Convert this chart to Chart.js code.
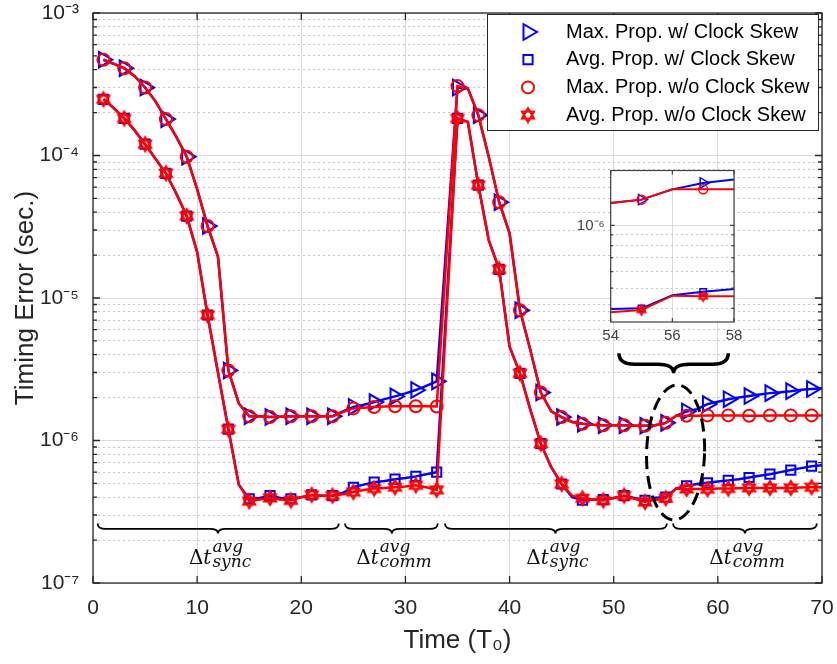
<!DOCTYPE html>
<html lang="en">
<head>
<meta charset="UTF-8">
<meta name="viewport" content="width=device-width, initial-scale=1.0">
<title>Timing Error over Time</title>
<style>
  body { margin: 0; background: #fff; }
  .stage { position: relative; width: 837px; height: 664px; }
  .stage > div { position: absolute; }
  #mainPane { left: 0; top: 0; width: 837px; height: 664px; }
  #zoomPane { left: 570px; top: 163px; width: 174px; height: 190px; }
</style>
</head>
<body>

<div class="stage">
  <div id="mainPane"><canvas id="errChart"></canvas></div>
  <div id="zoomPane"><canvas id="zoomChart"></canvas></div>
</div>

<!-- Chart.js -->
<script src="https://cdn.jsdelivr.net/npm/chart.js"></script>
<script>
    // Sample instants, in units of T0
    var time = [1, 2, 3, 4, 5, 6, 7, 8, 9, 10,
                11, 12, 13, 14, 15, 16, 17, 18, 19, 20,
                21, 22, 23, 24, 25, 26, 27, 28, 29, 30,
                31, 32, 33, 34, 35, 36, 37, 38, 39, 40,
                41, 42, 43, 44, 45, 46, 47, 48, 49, 50,
                51, 52, 53, 54, 55, 56, 57, 58, 59, 60,
                61, 62, 63, 64, 65, 66, 67, 68, 69, 70];

    // Propagated timing error (sec.)
    var maxSkew = [4.7e-4, 4.4e-4, 4.1e-4, 3.6e-4, 3.0e-4, 2.4e-4, 1.8e-4, 1.35e-4, 9.8e-5, 5.8e-5,
                   3.2e-5, 1.95e-5, 3.1e-6, 1.82e-6, 1.48e-6, 1.48e-6, 1.46e-6, 1.47e-6, 1.48e-6, 1.48e-6,
                   1.48e-6, 1.48e-6, 1.48e-6, 1.6e-6, 1.72e-6, 1.78e-6, 1.86e-6, 1.95e-6, 2.04e-6, 2.14e-6,
                   2.26e-6, 2.42e-6, 2.6e-6, 2.8e-5, 3.0e-4, 2.95e-4, 1.92e-4, 9.8e-5, 4.7e-5, 2.84e-5,
                   8.2e-6, 4.3e-6, 2.17e-6, 1.6e-6, 1.46e-6, 1.35e-6, 1.31e-6, 1.29e-6, 1.28e-6, 1.28e-6,
                   1.28e-6, 1.27e-6, 1.27e-6, 1.28e-6, 1.33e-6, 1.49e-6, 1.6e-6, 1.66e-6, 1.8e-6, 1.87e-6,
                   1.95e-6, 2.0e-6, 2.05e-6, 2.1e-6, 2.15e-6, 2.18e-6, 2.22e-6, 2.27e-6, 2.3e-6, 2.33e-6];

    var avgSkew = [2.48e-4, 2.15e-4, 1.82e-4, 1.5e-4, 1.2e-4, 9.5e-5, 7.5e-5, 5.4e-5, 3.76e-5, 2.1e-5,
                   7.6e-6, 3.0e-6, 1.2e-6, 4.9e-7, 3.9e-7, 3.95e-7, 4.1e-7, 3.95e-7, 3.9e-7, 4.0e-7,
                   4.15e-7, 4.1e-7, 4.1e-7, 4.3e-7, 4.7e-7, 4.9e-7, 5.1e-7, 5.2e-7, 5.35e-7, 5.45e-7,
                   5.6e-7, 5.8e-7, 6.0e-7, 1.05e-5, 1.82e-4, 1.72e-4, 6.2e-5, 2.55e-5, 1.59e-5, 4.55e-6,
                   2.96e-6, 1.64e-6, 9.5e-7, 6.5e-7, 4.95e-7, 4.0e-7, 3.82e-7, 3.85e-7, 3.85e-7, 3.95e-7,
                   4.1e-7, 3.95e-7, 3.8e-7, 3.97e-7, 4.0e-7, 4.62e-7, 4.8e-7, 4.95e-7, 5.05e-7, 5.15e-7,
                   5.25e-7, 5.35e-7, 5.5e-7, 5.65e-7, 5.8e-7, 6.0e-7, 6.2e-7, 6.4e-7, 6.6e-7, 6.7e-7];

    var maxNoSkew = [4.7e-4, 4.4e-4, 4.1e-4, 3.6e-4, 3.0e-4, 2.4e-4, 1.8e-4, 1.35e-4, 9.8e-5, 5.8e-5,
                     3.2e-5, 1.95e-5, 3.1e-6, 1.82e-6, 1.48e-6, 1.48e-6, 1.46e-6, 1.47e-6, 1.48e-6, 1.48e-6,
                     1.48e-6, 1.48e-6, 1.48e-6, 1.58e-6, 1.68e-6, 1.7e-6, 1.72e-6, 1.73e-6, 1.74e-6, 1.74e-6,
                     1.74e-6, 1.74e-6, 1.73e-6, 2.3e-5, 3.07e-4, 2.95e-4, 1.92e-4, 9.8e-5, 4.7e-5, 2.84e-5,
                     8.2e-6, 4.3e-6, 2.17e-6, 1.6e-6, 1.46e-6, 1.35e-6, 1.31e-6, 1.29e-6, 1.28e-6, 1.28e-6,
                     1.28e-6, 1.27e-6, 1.27e-6, 1.28e-6, 1.33e-6, 1.49e-6, 1.49e-6, 1.49e-6, 1.5e-6, 1.5e-6,
                     1.5e-6, 1.5e-6, 1.49e-6, 1.49e-6, 1.5e-6, 1.5e-6, 1.5e-6, 1.5e-6, 1.5e-6, 1.5e-6];

    var avgNoSkew = [2.48e-4, 2.15e-4, 1.82e-4, 1.5e-4, 1.2e-4, 9.5e-5, 7.5e-5, 5.4e-5, 3.76e-5, 2.1e-5,
                     7.6e-6, 3.0e-6, 1.2e-6, 4.9e-7, 3.75e-7, 3.85e-7, 3.95e-7, 3.85e-7, 3.8e-7, 4.0e-7,
                     4.15e-7, 4.1e-7, 4.1e-7, 4.2e-7, 4.35e-7, 4.5e-7, 4.6e-7, 4.65e-7, 4.7e-7, 4.75e-7,
                     4.85e-7, 4.7e-7, 4.5e-7, 9.0e-6, 1.82e-4, 1.72e-4, 6.2e-5, 2.55e-5, 1.59e-5, 4.55e-6,
                     2.96e-6, 1.64e-6, 9.5e-7, 6.5e-7, 4.95e-7, 4.1e-7, 3.93e-7, 3.85e-7, 3.8e-7, 3.95e-7,
                     4.1e-7, 3.9e-7, 3.7e-7, 3.83e-7, 3.93e-7, 4.6e-7, 4.57e-7, 4.57e-7, 4.55e-7, 4.6e-7,
                     4.6e-7, 4.62e-7, 4.65e-7, 4.65e-7, 4.65e-7, 4.65e-7, 4.65e-7, 4.68e-7, 4.7e-7, 4.7e-7];

    var seriesNames = ['Max. Prop. w/ Clock Skew', 'Avg. Prop. w/ Clock Skew',
                       'Max. Prop. w/o Clock Skew', 'Avg. Prop. w/o Clock Skew'];

    // Axis ticks
    var xTicks = [0, 10, 20, 30, 40, 50, 60, 70];
    var yDecades = [-7, -6, -5, -4, -3];
    var zoomXTicks = [54, 56, 58];
    var zoomYRange = [3.44e-7, 1.835e-6];

    // Sync / comm intervals marked under the curves (time units)
    var intervals = [
        { from: 0.45, to: 23.6, mid: 12.0, name: 'sync' },
        { from: 24.2, to: 33.1, mid: 28.7, name: 'comm' },
        { from: 33.8, to: 55.1, mid: 44.4, name: 'sync' },
        { from: 55.7, to: 69.5, mid: 62.6, name: 'comm' }
    ];
    var braceLevel = 2.62e-7;
    var labelLevel = 1.37e-7;
    var ring = { x: 55.94, y: 8.24e-7 };
    var pointer = { from: 50.5, to: 61.0, mid: 55.75, y: 4.09e-6 };

    var FONT = "'Liberation Sans', Arial, Helvetica, sans-serif";
    var INK = '#262626';
    var BLUE = '#0000ff';
    var RED = '#ff0000';

    // helpers for the log axis
    var SUP = { '-': '\u207B', '0': '\u2070', '1': '\u00B9', '2': '\u00B2', '3': '\u00B3', '4': '\u2074',
                '5': '\u2075', '6': '\u2076', '7': '\u2077', '8': '\u2078', '9': '\u2079' };
    function isDecade(v) {
        var l = Math.log10(v);
        return Math.abs(l - Math.round(l)) < 1e-6;
    }
    function decadeLabel(v) {
        if (!isDecade(v)) return '';
        return '10' + String(Math.round(Math.log10(v))).split('').map(function (c) { return SUP[c]; }).join('');
    }
    function logGrid(decades) {
        var v = [];
        decades.forEach(function (e, k) {
            var top = k === decades.length - 1 ? 1 : 9;
            for (var m = 1; m <= top; m++) v.push(m * Math.pow(10, e));
        });
        return v;
    }
    function minorColor(c) {
        return c.tick && !isDecade(c.tick.value) ? '#c6c6c6' : '#dadada';
    }
    function minorDash(c) {
        return c.tick && !isDecade(c.tick.value) ? [2, 3] : [];
    }
    // keep the plot box where the layout padding puts it
    function noEdgePadding(s) {
        s.paddingTop = 0; s.paddingBottom = 0;
        s.paddingLeft = 0; s.paddingRight = 0;
    }

    // six-pointed star marker
    function hexagram(r, lw, color) {
        var s = Math.ceil(2 * (r + lw) + 2);
        var c = document.createElement('canvas');
        c.width = s; c.height = s;
        var g = c.getContext('2d');
        g.strokeStyle = color; g.lineWidth = lw; g.lineJoin = 'miter';
        [0, Math.PI].forEach(function (a0) {
            g.beginPath();
            for (var k = 0; k < 3; k++) {
                var a = a0 - Math.PI / 2 + k * 2 * Math.PI / 3;
                var px = s / 2 + r * Math.cos(a), py = s / 2 + r * Math.sin(a);
                if (k) g.lineTo(px, py); else g.moveTo(px, py);
            }
            g.closePath();
            g.stroke();
        });
        return c;
    }

    // one line with a marker on every odd sample
    function makeSeries(label, values, color, style, size, lineW, markW, order) {
        return {
            label: label,
            data: time.map(function (t, i) { return { x: t, y: values[i] }; }),
            order: order,
            borderColor: color,
            borderWidth: lineW,
            tension: 0,
            pointStyle: style,
            pointRotation: style === 'triangle' ? 90 : 0,
            pointRadius: function (c) { return c.raw && c.raw.x % 2 === 1 ? size : 0; },
            pointBorderColor: color,
            pointBackgroundColor: 'rgba(0,0,0,0)',
            pointBorderWidth: markW,
            markerSize: size
        };
    }

    // box around the plot with inward tick marks
    var frame = {
        id: 'frame',
        beforeDraw: function (chart, args, o) {
            if (!o.fill) return;
            var a = chart.chartArea;
            chart.ctx.save();
            chart.ctx.fillStyle = o.fill;
            chart.ctx.fillRect(a.left, a.top, a.width, a.height);
            chart.ctx.restore();
        },
        afterDraw: function (chart, args, o) {
            var ctx = chart.ctx, a = chart.chartArea, xs = chart.scales.x, ys = chart.scales.y;
            ctx.save();
            ctx.strokeStyle = o.color;
            ctx.lineWidth = o.width;
            ctx.beginPath();
            xs.ticks.forEach(function (t) {
                var px = xs.getPixelForValue(t.value);
                ctx.moveTo(px, a.bottom); ctx.lineTo(px, a.bottom - o.major);
                ctx.moveTo(px, a.top); ctx.lineTo(px, a.top + o.major);
            });
            ys.ticks.forEach(function (t) {
                var py = ys.getPixelForValue(t.value);
                var len = isDecade(t.value) ? o.major : o.minor;
                ctx.moveTo(a.left, py); ctx.lineTo(a.left + len, py);
                ctx.moveTo(a.right, py); ctx.lineTo(a.right - len, py);
            });
            ctx.stroke();
            ctx.strokeRect(a.left, a.top, a.width, a.height);
            ctx.restore();
        }
    };

    // curly brace, ends at y and tip pointing down
    function brace(ctx, x1, x2, xm, y, depth) {
        var yb = y + depth * 0.55, yt = y + depth;
        var c = Math.min(depth * 0.8, (xm - x1) / 3, (x2 - xm) / 3);
        ctx.beginPath();
        ctx.moveTo(x1, y);
        ctx.quadraticCurveTo(x1, yb, x1 + c, yb);
        ctx.lineTo(xm - c, yb);
        ctx.quadraticCurveTo(xm, yb, xm, yt);
        ctx.quadraticCurveTo(xm, yb, xm + c, yb);
        ctx.lineTo(x2 - c, yb);
        ctx.quadraticCurveTo(x2, yb, x2, y);
        ctx.stroke();
    }

    // \Delta t^{avg}_{name}
    function deltaLabel(ctx, cx, by, name) {
        var fBig = '20px "DejaVu Serif", serif';
        var fIt = 'italic 20px "DejaVu Serif", serif';
        var fSm = 'italic 17px "DejaVu Serif", serif';
        ctx.font = fBig; var wD = ctx.measureText('\u0394').width;
        ctx.font = fIt; var wT = ctx.measureText('t').width;
        ctx.font = fSm; var wS = Math.max(ctx.measureText('avg').width, ctx.measureText(name).width);
        var x = cx - (wD + wT + 1 + wS) / 2;
        ctx.textAlign = 'left';
        ctx.textBaseline = 'alphabetic';
        ctx.fillStyle = '#111';
        ctx.font = fBig; ctx.fillText('\u0394', x, by); x += wD;
        ctx.font = fIt; ctx.fillText('t', x, by); x += wT + 1;
        ctx.font = fSm;
        ctx.fillText('avg', x, by - 12);
        ctx.fillText(name, x, by + 3.5);
    }

    var notes = {
        id: 'notes',
        afterDraw: function (chart) {
            var ctx = chart.ctx, xs = chart.scales.x, ys = chart.scales.y;
            ctx.save();
            ctx.strokeStyle = '#000';
            ctx.lineWidth = 1.8;
            intervals.forEach(function (b) {
                brace(ctx, xs.getPixelForValue(b.from), xs.getPixelForValue(b.to),
                      xs.getPixelForValue(b.mid), ys.getPixelForValue(braceLevel), 10);
                deltaLabel(ctx, xs.getPixelForValue(b.mid + 0.2), ys.getPixelForValue(labelLevel), b.name);
            });

            // brace pointing from the zoom view down to the switch-over
            ctx.lineWidth = 3.5;
            brace(ctx, xs.getPixelForValue(pointer.from), xs.getPixelForValue(pointer.to),
                  xs.getPixelForValue(pointer.mid), ys.getPixelForValue(pointer.y), 20);

            // dashed ring around the switch-over
            ctx.lineWidth = 3;
            ctx.setLineDash([13, 7]);
            ctx.beginPath();
            ctx.ellipse(xs.getPixelForValue(ring.x), ys.getPixelForValue(ring.y), 29, 67.5, 0.03, 0, 2 * Math.PI);
            ctx.stroke();
            ctx.restore();
        }
    };

    var keyBox = {
        id: 'keyBox',
        afterDraw: function (chart) {
            var ctx = chart.ctx, a = chart.chartArea;
            var w = 331, h = 116, left = a.right - 4 - w, top = a.top + 1;
            ctx.save();
            ctx.fillStyle = '#fff';
            ctx.fillRect(left, top, w, h);
            ctx.strokeStyle = INK;
            ctx.lineWidth = 1;
            ctx.strokeRect(left + 0.5, top + 0.5, w, h);
            ctx.font = '20px ' + FONT;
            ctx.textBaseline = 'middle';
            ctx.textAlign = 'left';
            chart.data.datasets.forEach(function (d, i) {
                var y = top + 18 + i * 27.7;
                ctx.strokeStyle = d.borderColor;
                ctx.fillStyle = 'rgba(0,0,0,0)';
                ctx.lineWidth = 2;
                Chart.helpers.drawPoint(ctx, { pointStyle: d.pointStyle, rotation: d.pointRotation,
                                               radius: d.markerSize, borderWidth: 2 }, left + 41, y);
                ctx.fillStyle = '#000';
                ctx.fillText(d.label, left + 79, y);
            });
            ctx.restore();
        }
    };

    var star = hexagram(7, 2, RED);
    var starSmall = hexagram(5, 1.5, RED);

    // Main chart
    var errChart = new Chart(document.getElementById('errChart').getContext('2d'), {
        type: 'line',
        data: {
            datasets: [
                makeSeries(seriesNames[0], maxSkew, BLUE, 'triangle', 9, 2.5, 2, 2),
                makeSeries(seriesNames[1], avgSkew, BLUE, 'rect', 6.5, 2.5, 2, 2),
                makeSeries(seriesNames[2], maxNoSkew, RED, 'circle', 6, 2.5, 2, 1),
                makeSeries(seriesNames[3], avgNoSkew, RED, star, 7, 2.5, 2, 1)
            ]
        },
        options: {
            responsive: true,
            maintainAspectRatio: false,
            animation: false,
            events: [],
            layout: { padding: { left: 0, top: 13, right: 15, bottom: 0 } },
            plugins: {
                legend: { display: false },
                tooltip: { enabled: false },
                frame: { color: INK, width: 1.3, major: 7, minor: 4 }
            },
            scales: {
                x: {
                    type: 'linear',
                    min: 0,
                    max: 70,
                    afterBuildTicks: function (s) { s.ticks = xTicks.map(function (v) { return { value: v }; }); },
                    afterFit: function (s) { s.height = 81; noEdgePadding(s); },
                    grid: { color: '#dadada', lineWidth: 1, drawTicks: false },
                    border: { display: false },
                    ticks: { color: INK, font: { family: FONT, size: 21 }, padding: 13, autoSkip: false, maxRotation: 0 },
                    title: { display: true, text: 'Time (T\u2080)', color: INK,
                             font: { family: FONT, size: 26 }, padding: { top: 0, bottom: 8 } }
                },
                y: {
                    type: 'logarithmic',
                    min: 1e-7,
                    max: 1e-3,
                    afterBuildTicks: function (s) { s.ticks = logGrid(yDecades).map(function (v) { return { value: v }; }); },
                    afterFit: function (s) { s.width = 93; noEdgePadding(s); },
                    grid: { color: minorColor, lineWidth: 1, drawTicks: false },
                    border: { display: false, dash: minorDash },
                    ticks: { color: INK, font: { family: FONT, size: 21 }, padding: 14, autoSkip: false,
                             callback: function (v) { return decadeLabel(v); } },
                    title: { display: true, text: 'Timing Error (sec.)', color: INK,
                             font: { family: FONT, size: 26 }, padding: { top: 10, bottom: 0 } }
                }
            }
        },
        plugins: [frame, notes, keyBox]
    });

    // Zoomed view of the switch-over around t = 56
    var zoomChart = new Chart(document.getElementById('zoomChart').getContext('2d'), {
        type: 'line',
        data: {
            datasets: [
                makeSeries(seriesNames[0], maxSkew, BLUE, 'triangle', 6, 2, 1.5, 2),
                makeSeries(seriesNames[1], avgSkew, BLUE, 'rect', 4.5, 2, 1.5, 2),
                makeSeries(seriesNames[2], maxNoSkew, RED, 'circle', 4.5, 2, 1.5, 1),
                makeSeries(seriesNames[3], avgNoSkew, RED, starSmall, 5, 2, 1.5, 1)
            ]
        },
        options: {
            responsive: true,
            maintainAspectRatio: false,
            animation: false,
            events: [],
            layout: { padding: { left: 0, top: 4, right: 10, bottom: 0 } },
            plugins: {
                legend: { display: false },
                tooltip: { enabled: false },
                frame: { color: '#404040', width: 1.2, major: 4, minor: 2.5, fill: '#fff' }
            },
            scales: {
                x: {
                    type: 'linear',
                    min: zoomXTicks[0],
                    max: zoomXTicks[zoomXTicks.length - 1],
                    afterBuildTicks: function (s) { s.ticks = zoomXTicks.map(function (v) { return { value: v }; }); },
                    afterFit: function (s) { s.height = 31; noEdgePadding(s); },
                    grid: { color: '#dadada', lineWidth: 1, drawTicks: false },
                    border: { display: false },
                    ticks: { color: '#404040', font: { family: FONT, size: 15 }, padding: 5, autoSkip: false, maxRotation: 0 }
                },
                y: {
                    type: 'logarithmic',
                    min: zoomYRange[0],
                    max: zoomYRange[1],
                    afterBuildTicks: function (s) {
                        s.ticks = logGrid([-7, -6]).filter(function (v) {
                            return v >= zoomYRange[0] && v <= zoomYRange[1];
                        }).map(function (v) { return { value: v }; });
                    },
                    afterFit: function (s) { s.width = 40.7; noEdgePadding(s); },
                    grid: { color: minorColor, lineWidth: 1, drawTicks: false },
                    border: { display: false, dash: minorDash },
                    ticks: { color: '#404040', font: { family: FONT, size: 15 }, padding: 6, autoSkip: false,
                             callback: function (v) { return decadeLabel(v); } }
                }
            }
        },
        plugins: [frame]
    });
</script>

</body>
</html>
